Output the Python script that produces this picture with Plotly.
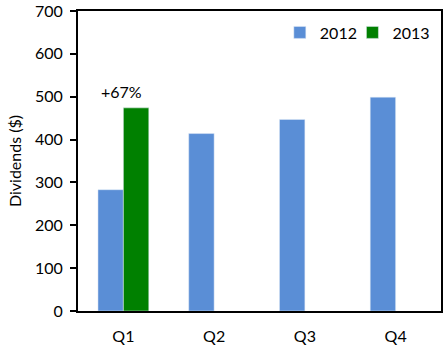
import plotly.graph_objects as go

categories = ["Q1", "Q2", "Q3", "Q4"]
values_2012 = [283, 414, 447, 499]
values_2013 = [474, None, None, None]
annotation_text = "+67%"

fig = go.Figure()
fig.add_trace(go.Bar(name="2012", x=categories, y=values_2012, marker_color="#5A8ED6", legend="legend"))
fig.add_trace(go.Bar(name="2013", x=categories, y=values_2013, marker_color="#008000", legend="legend2"))

fig.add_annotation(x=categories[0], y=values_2013[0], text=annotation_text, showarrow=False,
                   yshift=16, xshift=-2, font=dict(size=16, color="black"))

font_family = "Lato, Liberation Sans, Arial, sans-serif"
leg_common = dict(orientation="h", xanchor="left", y=0.985, yanchor="top",
                  font=dict(size=16), itemwidth=30, bgcolor="rgba(0,0,0,0)")
fig.update_layout(
    width=448, height=348,
    margin=dict(l=78, r=7, t=11, b=37),
    barmode="group", bargap=0.44, bargroupgap=0,
    plot_bgcolor="white", paper_bgcolor="white",
    font=dict(family=font_family, size=16, color="black"),
    legend=dict(x=0.556, **leg_common),
    legend2=dict(x=0.756, **leg_common),
    showlegend=True,
)
fig.update_yaxes(range=[0, 700], dtick=100, showgrid=False, zeroline=False, automargin=False,
                 showline=True, linecolor="black", linewidth=2, mirror=True,
                 ticks="outside", ticklen=6, tickcolor="black", tickwidth=2, ticklabelstandoff=4,
                 title=dict(text="Dividends ($)", font=dict(size=16), standoff=9))
fig.update_xaxes(showgrid=False, showline=True, linecolor="black", linewidth=2, mirror=True,
                 automargin=False, ticks="", tickfont=dict(size=16), ticklabelstandoff=10)

fig.write_html("out.html")
